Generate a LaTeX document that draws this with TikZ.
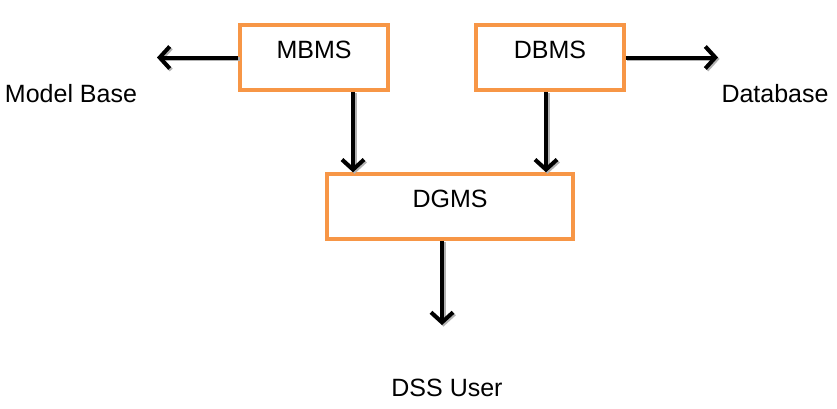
\documentclass[tikz,border=0pt]{standalone}
\usepackage{fontspec}
\setmainfont{Liberation Sans}
\usetikzlibrary{arrows.meta}
\definecolor{boxorange}{HTML}{F79646}
\tikzset{
  box/.style={draw=boxorange, line width=3.5pt, fill=white, rectangle,
    minimum height=65pt, text height=18pt, text depth=16pt, inner sep=0pt,
    font=\fontsize{25}{30}\selectfont},
  lbl/.style={font=\fontsize{25}{30}\selectfont, inner sep=0pt, anchor=center},
  arr/.style={line width=4pt, -{Straight Barb[length=10pt,width=22pt]},
    preaction={draw=black!30, line width=4pt, transform canvas={shift={(1.5pt,-1.5pt)}}}}
}
\begin{document}
\begin{tikzpicture}[x=1pt,y=-1pt]
\useasboundingbox[fill=white] (0,0) rectangle (837,408);
\node[box, minimum width=148pt] (mbms) at (314,57.5) {MBMS};
\node[box, minimum width=148pt] (dbms) at (550,57.5) {DBMS};
\node[box, minimum width=246pt] (dgms) at (450,206.5) {DGMS};
\node[lbl] (mb) at (71,94) {Model Base};
\node[lbl] (db) at (775,94) {Database};
\node[lbl] (user) at (447,388) {DSS User};
\coordinate (mbtip) at (157,57.5);
\coordinate (dbtip) at (718,57.5);
\coordinate (usertip) at (442,325);
\draw[arr] (mbms.west) -- (mbtip);
\draw[arr] (dbms.east) -- (dbtip);
\draw[arr] ([xshift=39pt]mbms.south) -- ([xshift=39pt]mbms.south |- dgms.north);
\draw[arr] ([xshift=-4pt]dbms.south) -- ([xshift=-4pt]dbms.south |- dgms.north);
\draw[arr] (dgms.south -| usertip) -- (usertip);
\end{tikzpicture}
\end{document}
